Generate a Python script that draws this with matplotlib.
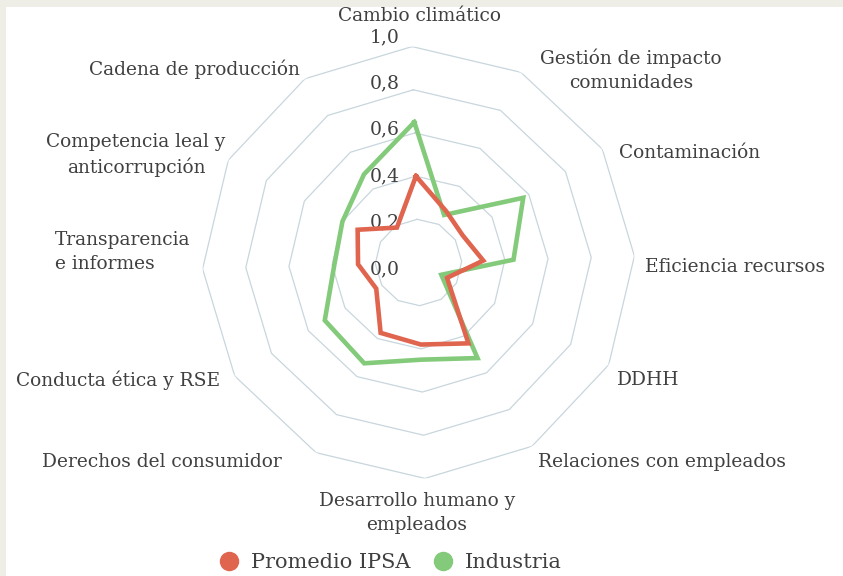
import numpy as np
import matplotlib.pyplot as plt
from matplotlib.lines import Line2D

# --- Data ---
categories = ["Cambio climático", "Gestión de impacto\ncomunidades", "Contaminación",
              "Eficiencia recursos", "DDHH", "Relaciones con empleados",
              "Desarrollo humano y\nempleados", "Derechos del consumidor",
              "Conducta ética y RSE", "Transparencia\ne informes",
              "Competencia leal y\nanticorrupción", "Cadena de producción"]
promedio_ipsa = [0.40, 0.27, 0.24, 0.30, 0.15, 0.44, 0.38, 0.37, 0.23, 0.28, 0.32, 0.19]
industria = [0.65, 0.25, 0.57, 0.44, 0.12, 0.52, 0.45, 0.53, 0.51, 0.39, 0.40, 0.48]
series_names = ["Promedio IPSA", "Industria"]
ticks = [0.0, 0.2, 0.4, 0.6, 0.8, 1.0]
tick_labels = ["0,0", "0,2", "0,4", "0,6", "0,8", "1,0"]

# --- Style ---
W, H = 843, 576
RED = "#e0654f"
GREEN = "#84ca7b"
GRID = "#c8d6dd"
TEXT = "#404040"
FONT = "DejaVu Serif"
FS = 13.4

fig = plt.figure(figsize=(W / 100, H / 100), dpi=100)
fig.patch.set_facecolor("#eeeee6")
# white panel
fig.add_artist(plt.Rectangle((6 / W, 0), 1, 1 - 7 / H, transform=fig.transFigure,
                             facecolor="white", edgecolor="none", zorder=0))

cx, cy, R = 418.5, 262.5, 216
ax = fig.add_axes([(cx - R) / W, (H - cy - R) / H, 2 * R / W, 2 * R / H], projection="polar")
ax.set_facecolor("none")
ax.set_theta_direction(-1)
ax.set_theta_offset(np.pi / 2 + np.radians(1.7))
ax.set_ylim(0, 1)
ax.grid(False)
ax.spines["polar"].set_visible(False)
ax.set_xticks([])
ax.set_yticks([])

n = len(categories)
theta = np.arange(n) * 2 * np.pi / n
theta_c = np.append(theta, theta[0])

# polygon gridlines
for t in ticks[1:]:
    ax.plot(theta_c, [t] * (n + 1), color=GRID, lw=0.9, zorder=1)

for vals, col in [(industria, GREEN), (promedio_ipsa, RED)]:
    ax.plot(theta_c, list(vals) + [vals[0]], color=col, lw=3.3, zorder=3,
            solid_joinstyle="miter")

# radial tick labels
for t, lab in zip(ticks, tick_labels):
    ypx = 269 - (269 - 37) * t
    ax.text(0.4213, (H - ypx - (H - cy - R)) / (2 * R), lab, transform=ax.transAxes,
            ha="center", va="center", fontsize=13.5, color=TEXT, family=FONT, zorder=2)

# category labels (pixel positions, alignment)
label_pos = [
    (419, 16, "center", "center"),
    (631, 70, "center", "center"),
    (619, 153, "left", "center"),
    (645, 267, "left", "center"),
    (617, 380, "left", "center"),
    (538, 462, "left", "center"),
    (417, 513, "center", "center"),
    (282, 462, "right", "center"),
    (220, 380, "right", "center"),
    (55, 252, "left", "left"),
    (136, 155, "center", "center"),
    (300, 69, "right", "center"),
]
for lab, (x, y, ha, ma) in zip(categories, label_pos):
    fig.text(x / W, 1 - y / H, lab, ha=ha, va="center", multialignment=ma,
             fontsize=FS, color=TEXT, family=FONT, linespacing=1.4)

# legend
handles = [Line2D([], [], marker="o", ls="none", color=c, markersize=13) for c in (RED, GREEN)]
fig.legend(handles, series_names, loc="center", bbox_to_anchor=(385 / W, 1 - 563 / H),
           ncol=2, frameon=False, handletextpad=0.05, columnspacing=0.6,
           prop={"family": FONT, "size": 15}, labelcolor=TEXT)

fig.savefig("out.png", dpi=100, facecolor=fig.get_facecolor())
